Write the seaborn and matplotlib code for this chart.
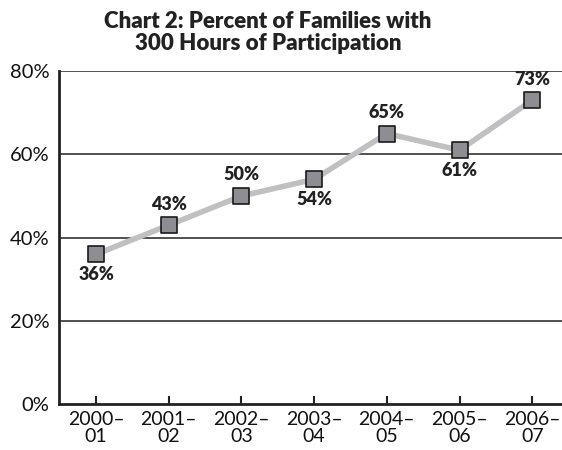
import matplotlib
matplotlib.use("Agg")
import matplotlib.pyplot as plt
import seaborn as sns
import pandas as pd

years = ["2000–\n01", "2001–\n02", "2002–\n03", "2003–\n04", "2004–\n05", "2005–\n06", "2006–\n07"]
values = [36, 43, 50, 54, 65, 61, 73]
label_pos = ["below", "above", "above", "below", "above", "below", "above"]
yticks = [0, 20, 40, 60, 80]

sns.set_theme(style="white")
plt.rcParams['font.family'] = ['Lato', 'DejaVu Sans']

df = pd.DataFrame({"x": range(len(years)), "v": values})

fig = plt.figure(figsize=(5.62, 4.5), dpi=100)
ax = fig.add_axes([0.105, 0.102, 0.895, 0.740])

for t in yticks[1:]:
    ax.axhline(t, color="#222222", lw=1.1, zorder=1)

sns.lineplot(data=df, x="x", y="v", ax=ax, color="#c0c0c2", lw=4, zorder=2)
sns.scatterplot(data=df, x="x", y="v", ax=ax, marker="s", s=130, color="#8e8e92",
                edgecolor="#1a1a1a", linewidth=1.2, zorder=3)

for i, (v, p) in enumerate(zip(values, label_pos)):
    if p == "above":
        ax.annotate(f"{v}%", (i, v), xytext=(0, 9), textcoords="offset points",
                    ha="center", va="bottom", fontsize=13, fontweight="heavy", color="#222222")
    else:
        ax.annotate(f"{v}%", (i, v), xytext=(0, -8.5), textcoords="offset points",
                    ha="center", va="top", fontsize=13, fontweight="heavy", color="#222222")

ax.set_xlim(-0.51, 6.41)
ax.set_ylim(0, 80)
ax.set_yticks(yticks)
ax.set_yticklabels([f"{t}%" for t in yticks], fontsize=14.5, color="#111111")
ax.set_xticks(range(len(years)))
ax.set_xticklabels(years, fontsize=14, color="#111111", linespacing=1.0)
ax.tick_params(axis="x", direction="in", length=6, width=1.5, color="#222222", bottom=True, pad=5)
ax.tick_params(axis="y", length=0, pad=7)
ax.set_xlabel("")
ax.set_ylabel("")
for s in ["top", "right"]:
    ax.spines[s].set_visible(False)
for s in ["left", "bottom"]:
    ax.spines[s].set_color("#222222")
    ax.spines[s].set_linewidth(2)

fig.suptitle("Chart 2: Percent of Families with\n300 Hours of Participation",
             x=0.477, y=0.975, fontsize=16, fontweight="heavy", color="#222222", linespacing=1.05)

fig.savefig("out.png", dpi=100)
